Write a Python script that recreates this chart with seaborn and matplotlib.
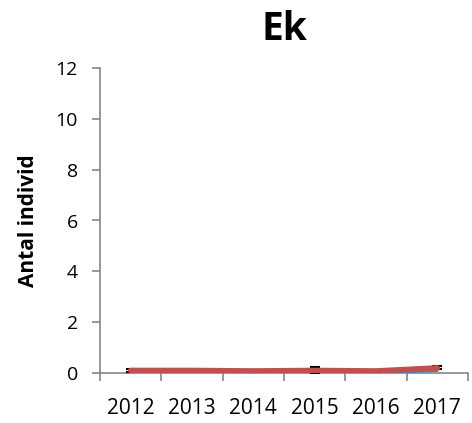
import matplotlib
matplotlib.use("Agg")
import matplotlib.pyplot as plt
import seaborn as sns
import pandas as pd
import numpy as np

years = ["2012", "2013", "2014", "2015", "2016", "2017"]
blue_values = [0.0, 0.0, 0.0, 0.0, 0.0, 0.1]
red_values = [0.1, 0.1, 0.08, 0.1, 0.08, 0.2]
red_errors = [0.05, 0.03, 0.03, 0.15, 0.03, 0.06]
y_ticks = [0, 2, 4, 6, 8, 10, 12]

sns.set_theme(style="white")
plt.rcParams["font.family"] = ["Open Sans", "DejaVu Sans"]
plt.rcParams["text.color"] = "black"
plt.rcParams["axes.labelcolor"] = "black"
plt.rcParams["xtick.color"] = "black"
plt.rcParams["ytick.color"] = "black"

df = pd.DataFrame({"year": years, "blue": blue_values, "red": red_values, "err": red_errors})
df["x"] = np.arange(len(years))

fig = plt.figure(figsize=(4.72, 4.23), dpi=100)
ax = fig.add_axes([100 / 472, 50 / 423, 368 / 472, 305 / 423])

sns.lineplot(data=df, x="x", y="blue", ax=ax, color="#4F81BD", linewidth=2.2, zorder=3)
ax.errorbar(df["x"], df["red"], yerr=df["err"], fmt="none", ecolor="black",
            elinewidth=1.0, capsize=3.5, capthick=1.5, zorder=4)
sns.lineplot(data=df, x="x", y="red", ax=ax, color="#C0504D", linewidth=4, zorder=5)

ax.set_xlim(-0.5, len(years) - 0.5)
ax.set_ylim(0, 12)
ax.set_yticks(y_ticks)
ax.set_yticklabels([str(t) for t in y_ticks], fontsize=14, color="black")
ax.set_xticks(df["x"])
ax.set_xticklabels(years, fontsize=15, color="black")
ax.set_xticks(np.arange(-0.5, len(years), 1.0), minor=True)

for side in ["top", "right"]:
    ax.spines[side].set_visible(False)
for side in ["left", "bottom"]:
    ax.spines[side].set_color("#868686")
    ax.spines[side].set_linewidth(1.2)

ax.tick_params(axis="y", which="major", direction="out", length=6, width=1.2,
               color="#868686", left=True, pad=10)
ax.tick_params(axis="x", which="major", length=0, pad=18)
ax.tick_params(axis="x", which="minor", direction="out", length=6, width=1.2,
               color="#868686", bottom=True)

ax.set_xlabel("")
ax.set_ylabel("Antal individ", fontsize=15, fontweight="bold", labelpad=12, color="black")
ax.set_title("Ek", fontsize=28, fontweight="bold", pad=20, color="black")

fig.savefig("out.png", dpi=100)
